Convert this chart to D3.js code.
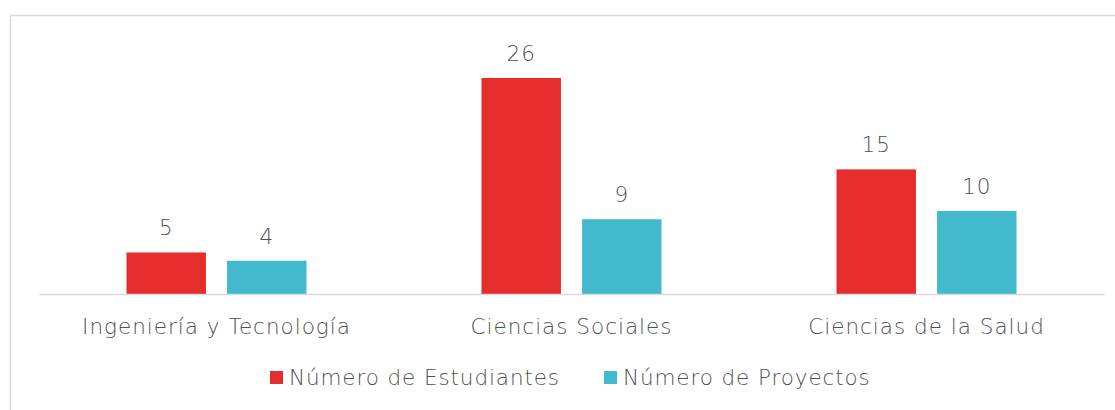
<!DOCTYPE html>
<html><head><meta charset="utf-8">
<script src="https://cdn.jsdelivr.net/npm/d3@7"></script>
<style>
html,body{margin:0;padding:0;background:#fff;}
text{font-family:"Century Gothic","DejaVu Sans",sans-serif;fill:#505050;font-weight:200;}
</style></head>
<body><svg id="c" width="1115" height="410"></svg>
<script>
const categories = ["Ingeniería y Tecnología", "Ciencias Sociales", "Ciencias de la Salud"];
const seriesNames = ["Número de Estudiantes", "Número de Proyectos"];
const estudiantes = [5, 26, 15];
const proyectos = [4, 9, 10];
const colors = ["#E52D2E", "#42B9CC"];
const FS = 21.5;

const svg = d3.select("#c");
svg.append("rect").attr("x",10.5).attr("y",15.5).attr("width",1200).attr("height",500)
  .attr("fill","#fff").attr("stroke","#d9d9d9").attr("stroke-width",1.5);

const x0 = d3.scaleBand().domain(categories).range([39,1104]).paddingInner(0).paddingOuter(0);
const groupW = 180;
const x1 = d3.scaleBand().domain(seriesNames)
  .range([(x0.bandwidth()-groupW)/2,(x0.bandwidth()+groupW)/2]).paddingInner(0.21).paddingOuter(0);
const y = d3.scaleLinear().domain([0,26]).range([294,78]);

const data = categories.map((c,i)=>({cat:c, vals:[estudiantes[i], proyectos[i]]}));
const g = svg.append("g");
const grp = g.selectAll("g.cat").data(data).join("g").attr("transform",d=>`translate(${x0(d.cat)},0)`);
grp.selectAll("rect").data(d=>d.vals.map((v,j)=>({s:seriesNames[j],v,j}))).join("rect")
  .attr("x",d=>x1(d.s)).attr("width",x1.bandwidth())
  .attr("y",d=>y(d.v)).attr("height",d=>y(0)-y(d.v)).attr("fill",d=>colors[d.j]);
grp.selectAll("text").data(d=>d.vals.map((v,j)=>({s:seriesNames[j],v,j}))).join("text")
  .attr("x",d=>x1(d.s)+x1.bandwidth()/2).attr("y",d=>y(d.v)-17)
  .attr("text-anchor","middle").attr("font-size",FS).attr("letter-spacing",1).text(d=>d.v);

// axis
const ax = svg.append("g").attr("transform","translate(0,294)")
  .call(d3.axisBottom(x0).tickSize(0).tickPadding(0));
ax.select(".domain").attr("stroke","#d9d9d9").attr("stroke-width",1.5);
ax.selectAll(".tick text").attr("font-size",FS).attr("dy",null).attr("y",40)
  .style("font-family",'"Century Gothic","DejaVu Sans",sans-serif').style("font-weight",200)
  .attr("fill","#505050").attr("letter-spacing",1);

// legend
const leg = svg.append("g");
const legX = [270, 604];
seriesNames.forEach((s,i)=>{
  leg.append("rect").attr("x",legX[i]).attr("y",371).attr("width",13).attr("height",13).attr("fill",colors[i]);
  leg.append("text").attr("x",legX[i]+19).attr("y",385).attr("font-size",FS).attr("letter-spacing",0.9).text(s);
});
</script></body></html>
